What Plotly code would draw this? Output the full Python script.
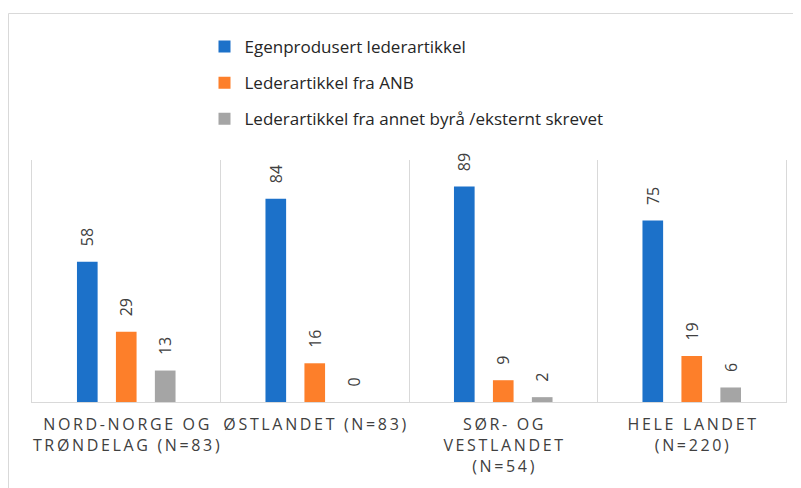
import plotly.graph_objects as go

categories = ["NORD-NORGE OG<br>TRØNDELAG (N=83)", "ØSTLANDET (N=83)",
              "SØR- OG<br>VESTLANDET<br>(N=54)", "HELE LANDET<br>(N=220)"]
series_names = ["Egenprodusert lederartikkel", "Lederartikkel fra ANB",
                "Lederartikkel fra annet byrå /eksternt skrevet"]
egen = [58, 84, 89, 75]
anb = [29, 16, 9, 19]
annet = [13, 0, 2, 6]
colors = ["#1C71C9", "#FD7F2A", "#A5A5A5"]

FONT = "Open Sans"
THIN = "\u2009"


def spaced(label):
    lines = label.split("<br>")
    return "<br>".join(THIN.join(list(l)) for l in lines)


xlabels = [spaced(c) for c in categories]

L, R, T, B = 24, 23, 152, 94
PW, PH = 801 - L - R, 488 - T - B

fig = go.Figure()
for i, (name, vals) in enumerate(zip(series_names, [egen, anb, annet])):
    fig.add_trace(go.Bar(
        x=xlabels, y=vals, name=name, legendgroup=f"g{i}",
        marker=dict(color=colors[i], line=dict(width=0)),
        text=vals, texttemplate="\u00a0\u00a0\u00a0%{y}",
        textposition="outside", textangle=-90, constraintext="none",
        cliponaxis=False,
        outsidetextfont=dict(family=FONT, size=16, color="#404040"),
        hoverinfo="skip",
    ))

fig.update_layout(
    width=801, height=488, autosize=False,
    margin=dict(l=L, r=R, t=T, b=B, pad=0, autoexpand=False),
    paper_bgcolor="white", plot_bgcolor="white",
    barmode="group", bargap=0.38, bargroupgap=0.47,
    font=dict(family=FONT, size=16, color="#262626"),
    showlegend=True,
    legend=dict(x=(196.5 - L) / PW, y=(PH + T - 21) / PH,
                xanchor="left", yanchor="top",
                orientation="v", tracegroupgap=11,
                font=dict(family=FONT, size=17, color="#262626"),
                bgcolor="rgba(0,0,0,0)"),
    xaxis=dict(type="category", tickson="boundaries", showgrid=True,
               gridcolor="#D9D9D9", gridwidth=1, showline=True,
               linecolor="#D9D9D9", linewidth=1, ticks="", ticklen=0,
               tickangle=0, automargin=False,
               tickfont=dict(family=FONT, size=16, color="#404040"),
               ticklabelstandoff=8, fixedrange=True),
    yaxis=dict(range=[0, 100], showgrid=False, zeroline=False,
               showticklabels=False, ticks="", showline=True, mirror=True,
               linecolor="#D9D9D9", linewidth=1, fixedrange=True,
               automargin=False),
    shapes=[dict(type="rect", xref="paper", yref="paper",
                 x0=(0.5 - L) / PW, x1=(810 - L) / PW,
                 y0=(PH + T - 500) / PH, y1=(PH + T - 5.5) / PH,
                 line=dict(color="#D9D9D9", width=1), layer="below")],
)

fig.write_html("out.html")
